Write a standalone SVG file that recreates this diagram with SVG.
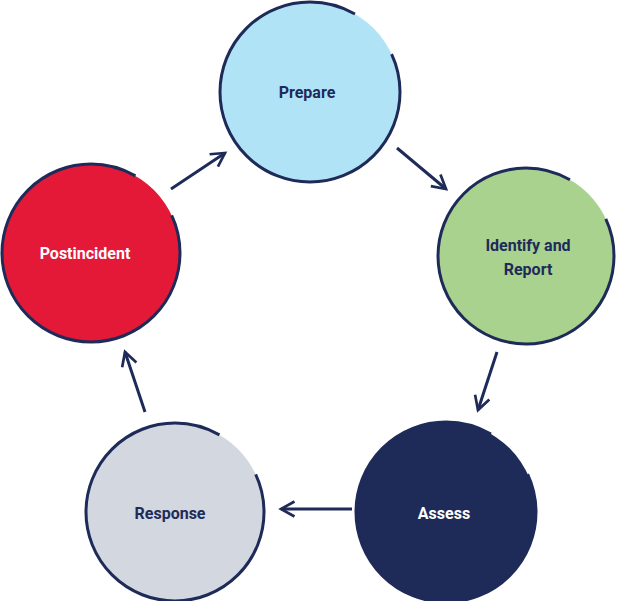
<svg xmlns="http://www.w3.org/2000/svg" width="623" height="601" viewBox="0 0 623 601">
<style>
.c{stroke:#1e2b59;stroke-width:3;stroke-dasharray:300 35 25}
.t{font-family:Roboto,"Liberation Sans",sans-serif;font-weight:bold;font-size:16px;text-anchor:middle}
.a{fill:none;stroke:#1e2b59;stroke-width:3}
</style>
<defs><marker id="m" viewBox="0 0 12 12" refX="10" refY="6" markerWidth="6" markerHeight="6" orient="auto" markerUnits="strokeWidth"><path d="M1,1 L10,6 L1,11" fill="none" stroke="#1e2b59" stroke-width="1.8"/></marker></defs>
<g id="prepare"><circle class="c" cx="310" cy="92" r="90" fill="#b1e3f6" pathLength="360"/><text class="t" x="307" y="98" fill="#1e2b59">Prepare</text></g>
<g id="identify"><circle class="c" cx="526" cy="256" r="88" fill="#a8d28d" pathLength="360"/><text class="t" x="528" y="251" fill="#1e2b59">Identify and</text><text class="t" x="528" y="275" fill="#1e2b59">Report</text></g>
<g id="assess"><circle class="c" cx="446" cy="512" r="90" fill="#1e2b59" pathLength="360"/><text class="t" x="444" y="519" fill="#ffffff">Assess</text></g>
<g id="response"><circle class="c" cx="175" cy="512" r="89" fill="#d3d7e0" pathLength="360"/><text class="t" x="170" y="519" fill="#1e2b59">Response</text></g>
<g id="postincident"><circle class="c" cx="91" cy="253" r="89" fill="#e31937" pathLength="360"/><text class="t" x="85" y="259" fill="#ffffff">Postincident</text></g>
<g id="connectors">
<path class="a" d="M397,148 L446,189" marker-end="url(#m)"/>
<path class="a" d="M497,352 L478,410" marker-end="url(#m)"/>
<path class="a" d="M352,509 L281,509" marker-end="url(#m)"/>
<path class="a" d="M145,412 L125,352" marker-end="url(#m)"/>
<path class="a" d="M171,189 L225,153" marker-end="url(#m)"/>
</g>
</svg>
